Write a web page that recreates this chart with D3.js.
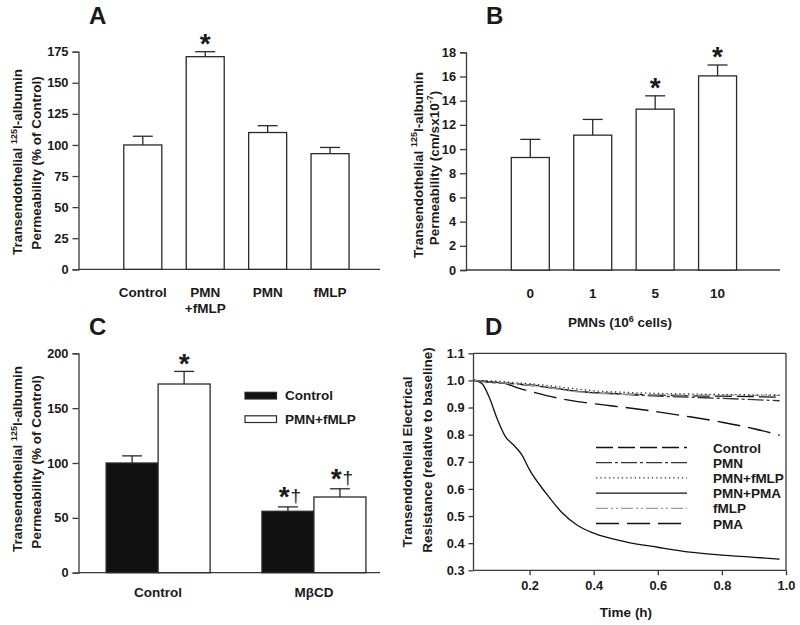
<!DOCTYPE html>
<html><head><meta charset="utf-8">
<script src="https://cdn.jsdelivr.net/npm/d3@7"></script>
<style>
html,body{margin:0;padding:0;background:#fff;}
svg text{font-family:"Liberation Sans",Arial,Helvetica,sans-serif;font-weight:bold;fill:#1a1a1a;}
</style></head>
<body>
<svg id="chart" width="800" height="625"></svg>
<script>
// ---------- DATA ----------
// Panel A
const categoriesA = [["Control"], ["PMN", "+fMLP"], ["PMN"], ["fMLP"]];
const valuesA = [100, 171, 110, 93];
const errorsA = [7, 4, 5.5, 5];
const sigA = ["", "*", "", ""];
const ticksA = [0, 25, 50, 75, 100, 125, 150, 175];
// Panel B
const categoriesB = ["0", "1", "5", "10"];
const valuesB = [9.3, 11.15, 13.3, 16.05];
const errorsB = [1.5, 1.3, 1.1, 0.9];
const sigB = ["", "", "*", "*"];
const ticksB = [0, 2, 4, 6, 8, 10, 12, 14, 16, 18];
// Panel C
const groupsC = ["Control", "M\u03B2CD"];
const seriesC = ["Control", "PMN+fMLP"];
const controlC = [100, 56];
const controlErrC = [6.5, 4];
const pmnFmlpC = [172, 69];
const pmnFmlpErrC = [11.5, 7.5];
const controlSigC = ["", "*\u2020"];
const pmnFmlpSigC = ["*", "*\u2020"];
const ticksC = [0, 50, 100, 150, 200];
// Panel D
const timeD = [0.025, 0.05, 0.075, 0.1, 0.125, 0.15, 0.175, 0.2, 0.25, 0.3, 0.35, 0.4, 0.5, 0.6, 0.7, 0.8, 0.9, 0.98];
const seriesD = ["Control", "PMN", "PMN+fMLP", "PMN+PMA", "fMLP", "PMA"];
const controlD  = [1.0, 0.998, 0.995, 0.993, 0.99, 0.988, 0.985, 0.982, 0.975, 0.967, 0.96, 0.955, 0.95, 0.946, 0.943, 0.942, 0.94, 0.938];
const pmnD      = [1.0, 0.997, 0.993, 0.99, 0.989, 0.988, 0.986, 0.984, 0.977, 0.968, 0.96, 0.955, 0.948, 0.942, 0.938, 0.934, 0.929, 0.925];
const pmnFmlpD  = [1.0, 0.999, 0.998, 0.997, 0.995, 0.992, 0.99, 0.988, 0.982, 0.975, 0.968, 0.962, 0.956, 0.952, 0.95, 0.948, 0.947, 0.946];
const pmnPmaD   = [1.0, 0.99, 0.935, 0.855, 0.792, 0.762, 0.727, 0.67, 0.586, 0.514, 0.465, 0.437, 0.405, 0.385, 0.367, 0.356, 0.348, 0.341];
const fmlpD     = [1.0, 0.998, 0.995, 0.992, 0.99, 0.988, 0.986, 0.983, 0.975, 0.966, 0.958, 0.953, 0.949, 0.947, 0.946, 0.946, 0.945, 0.945];
const pmaD      = [1.0, 0.998, 0.995, 0.992, 0.988, 0.978, 0.968, 0.96, 0.945, 0.932, 0.922, 0.914, 0.9, 0.884, 0.866, 0.846, 0.822, 0.798];
const ticksDx = [0.2, 0.4, 0.6, 0.8, 1.0];
const ticksDy = [0.3, 0.4, 0.5, 0.6, 0.7, 0.8, 0.9, 1.0, 1.1];

// ---------- HELPERS ----------
const svg = d3.select("#chart");
const AX = "#3a3a3a";
const FS = 13.5;
const TFS = 12.8;

function styleAxis(g) {
  g.select(".domain").attr("stroke", AX).attr("stroke-width", 1.3);
  g.selectAll(".tick line").attr("stroke", AX).attr("stroke-width", 1.3);
  g.selectAll(".tick text").attr("font-size", TFS).attr("fill", "#1a1a1a")
    .attr("font-family", '"Liberation Sans",Arial,sans-serif').attr("font-weight", "bold");
}
function yLabel(cx, cy, parts) {
  const t = svg.append("text").attr("transform", `translate(${cx},${cy}) rotate(-90)`)
    .attr("text-anchor", "middle").attr("font-size", FS);
  let raised = false;
  parts.forEach(([s, sup]) => {
    const ts = t.append("tspan").text(s);
    if (sup && !raised) { ts.attr("font-size", 9).attr("dy", -5.5); raised = true; }
    else if (!sup && raised) { ts.attr("dy", 5.5); raised = false; }
    else if (sup) ts.attr("font-size", 9);
  });
}
function panelTitle(x, y, s) {
  svg.append("text").attr("x", x).attr("y", y).attr("font-size", 24).text(s);
}
function mark(x, yc, s) {
  const t = svg.append("text").attr("x", x).attr("y", yc + 16).attr("text-anchor", "middle");
  s.split("").forEach(ch => {
    if (ch === "*") t.append("tspan").attr("font-size", 28).text("*");
    else t.append("tspan").attr("font-size", 19).attr("font-weight", "normal").attr("dy", -4).attr("dx", 1).text(ch);
  });
}
function drawBars(x, y, vals, errs, sigs, bw, fill) {
  const g = svg.append("g");
  vals.forEach((v, i) => {
    const cx = x(i);
    g.append("rect").attr("x", cx - bw / 2).attr("y", y(v)).attr("width", bw)
      .attr("height", y(0) - y(v)).attr("fill", fill).attr("stroke", "#2a2a2a").attr("stroke-width", 1.3);
    const yt = y(v + errs[i]);
    g.append("line").attr("x1", cx).attr("x2", cx).attr("y1", y(v)).attr("y2", yt).attr("stroke", "#2a2a2a").attr("stroke-width", 1.3);
    g.append("line").attr("x1", cx - 10).attr("x2", cx + 10).attr("y1", yt).attr("y2", yt).attr("stroke", "#2a2a2a").attr("stroke-width", 1.3);
    if (sigs[i]) mark(cx + (sigs[i].length > 1 ? 2 : 0), yt - (sigs[i].length > 1 ? 17 : 14.5), sigs[i]);
  });
}

// ---------- PANEL A ----------
{
  const x = d3.scaleLinear().domain([-1.03, 3.8]).range([78.5, 380]);
  const y = d3.scaleLinear().domain([0, 175]).range([269.3, 51.7]);
  const gy = svg.append("g").attr("transform", "translate(78.5,0)")
    .call(d3.axisLeft(y).tickValues(ticksA).tickSize(6).tickPadding(4));
  styleAxis(gy);
  svg.append("line").attr("x1", 78.5).attr("x2", 380).attr("y1", y(0)).attr("y2", y(0)).attr("stroke", AX).attr("stroke-width", 1.3);
  drawBars(i => x(i), y, valuesA, errorsA, sigA, 38, "#fff");
  categoriesA.forEach((lines, i) => {
    lines.forEach((l, j) => svg.append("text").attr("x", x(i)).attr("y", 297 + j * 15.5)
      .attr("text-anchor", "middle").attr("font-size", FS).text(l));
  });
  yLabel(22, 162, [["Transendothelial ", false], ["125", true], ["I-albumin", false]]);
  yLabel(41, 163, [["Permeability (% of Control)", false]]);
  panelTitle(89, 24, "A");
}

// ---------- PANEL B ----------
{
  const x = d3.scaleLinear().domain([-1.03, 4.0]).range([466, 780]);
  const y = d3.scaleLinear().domain([0, 18]).range([270, 52.3]);
  const gy = svg.append("g").attr("transform", "translate(466,0)")
    .call(d3.axisLeft(y).tickValues(ticksB).tickSize(6).tickPadding(4));
  styleAxis(gy);
  svg.append("line").attr("x1", 466).attr("x2", 780).attr("y1", y(0)).attr("y2", y(0)).attr("stroke", AX).attr("stroke-width", 1.3);
  drawBars(i => x(i), y, valuesB, errorsB, sigB, 38, "#fff");
  categoriesB.forEach((l, i) => svg.append("text").attr("x", x(i)).attr("y", 298)
    .attr("text-anchor", "middle").attr("font-size", FS).text(l));
  const t = svg.append("text").attr("x", 620).attr("y", 327).attr("text-anchor", "middle").attr("font-size", FS);
  t.append("tspan").text("PMNs (10");
  t.append("tspan").attr("font-size", 9).attr("dy", -5.5).text("6");
  t.append("tspan").attr("dy", 5.5).text(" cells)");
  yLabel(422.5, 165, [["Transendothelial ", false], ["125", true], ["I-albumin", false]]);
  yLabel(438.5, 168, [["Permeability (cm/sx10", false], ["-7", true], [")", false]]);
  panelTitle(486, 24, "B");
}

// ---------- PANEL C ----------
{
  const x = d3.scaleLinear().domain([-0.511, 1.424]).range([78.5, 380]);
  const y = d3.scaleLinear().domain([0, 200]).range([572.7, 353.3]);
  const bw = 52;
  const gy = svg.append("g").attr("transform", "translate(78.5,0)")
    .call(d3.axisLeft(y).tickValues(ticksC).tickSize(6).tickPadding(4));
  styleAxis(gy);
  svg.append("line").attr("x1", 78.5).attr("x2", 380).attr("y1", y(0)).attr("y2", y(0)).attr("stroke", AX).attr("stroke-width", 1.3);
  drawBars(i => x(i) - bw / 2, y, controlC, controlErrC, controlSigC, bw, "#111");
  drawBars(i => x(i) + bw / 2, y, pmnFmlpC, pmnFmlpErrC, pmnFmlpSigC, bw, "#fff");
  groupsC.forEach((l, i) => svg.append("text").attr("x", x(i)).attr("y", 597)
    .attr("text-anchor", "middle").attr("font-size", FS).text(l));
  const fills = ["#111", "#fff"];
  seriesC.forEach((s, i) => {
    const yy = 392.3 + i * 23.5;
    svg.append("rect").attr("x", 245).attr("y", yy).attr("width", 31.5).attr("height", 6.7)
      .attr("fill", fills[i]).attr("stroke", "#2a2a2a").attr("stroke-width", 1.2);
    svg.append("text").attr("x", 285).attr("y", yy + 8).attr("font-size", FS).text(s);
  });
  yLabel(22, 459, [["Transendothelial ", false], ["125", true], ["I-albumin", false]]);
  yLabel(41, 462, [["Permeability (% of Control)", false]]);
  panelTitle(89, 335, "C");
}

// ---------- PANEL D ----------
{
  const x = d3.scaleLinear().domain([0.025, 1.0]).range([473.5, 786]);
  const y = d3.scaleLinear().domain([0.3, 1.1]).range([570.3, 353.3]);
  const gx = svg.append("g").attr("transform", `translate(0,${y(0.3)})`)
    .call(d3.axisBottom(x).tickValues(ticksDx).tickFormat(d3.format(".1f")).tickSize(5).tickPadding(6));
  styleAxis(gx);
  const gy = svg.append("g").attr("transform", `translate(${x(0.025)},0)`)
    .call(d3.axisLeft(y).tickValues(ticksDy).tickFormat(d3.format(".1f")).tickSize(5).tickPadding(4));
  styleAxis(gy);
  gx.select(".domain").attr("d", `M${x(0.025)},0H${x(1.0)}`);
  gy.select(".domain").attr("d", `M0,${y(0.3)}V${y(1.1)}`);
  svg.append("line").attr("x1", x(0.025)).attr("x2", x(1.0)).attr("y1", y(1.1)).attr("y2", y(1.1)).attr("stroke", AX).attr("stroke-width", 1.3);
  svg.append("line").attr("x1", x(1.0)).attr("x2", x(1.0)).attr("y1", y(1.1)).attr("y2", y(0.3)).attr("stroke", AX).attr("stroke-width", 1.3);

  const valuesD = [controlD, pmnD, pmnFmlpD, pmnPmaD, fmlpD, pmaD];
  const styles = [
    { c: "#111", d: "17,5", w: 1.3 },
    { c: "#333", d: "16,3,3,3", w: 1.3 },
    { c: "#333", d: "1.3,3", w: 1.3 },
    { c: "#111", d: null, w: 1.3 },
    { c: "#9a9a9a", d: "12,3,2,3,2,3", w: 1.3 },
    { c: "#111", d: "23,8", w: 1.4 }
  ];
  const line = d3.line().x(d => x(d[0])).y(d => y(d[1])).curve(d3.curveMonotoneX);
  [3, 5, 0, 1, 4, 2].forEach(k => {
    const pts = timeD.map((t, i) => [t, valuesD[k][i]]);
    const p = svg.append("path").attr("d", line(pts)).attr("fill", "none")
      .attr("stroke", styles[k].c).attr("stroke-width", styles[k].w);
    if (styles[k].d) p.attr("stroke-dasharray", styles[k].d);
  });
  seriesD.forEach((s, k) => {
    const yy = 447.5 + k * 15.2;
    const l = svg.append("line").attr("x1", 596).attr("x2", 687).attr("y1", yy).attr("y2", yy)
      .attr("stroke", styles[k].c).attr("stroke-width", styles[k].w);
    if (styles[k].d) l.attr("stroke-dasharray", styles[k].d);
    svg.append("text").attr("x", 713).attr("y", yy + 5).attr("font-size", FS).text(s);
  });
  svg.append("text").attr("x", 626).attr("y", 617).attr("text-anchor", "middle").attr("font-size", FS).text("Time (h)");
  yLabel(412, 462, [["Transendothelial Electrical", false]]);
  yLabel(432, 450, [["Resistance (relative to baseline)", false]]);
  panelTitle(485, 335, "D");
}
</script>
</body></html>
